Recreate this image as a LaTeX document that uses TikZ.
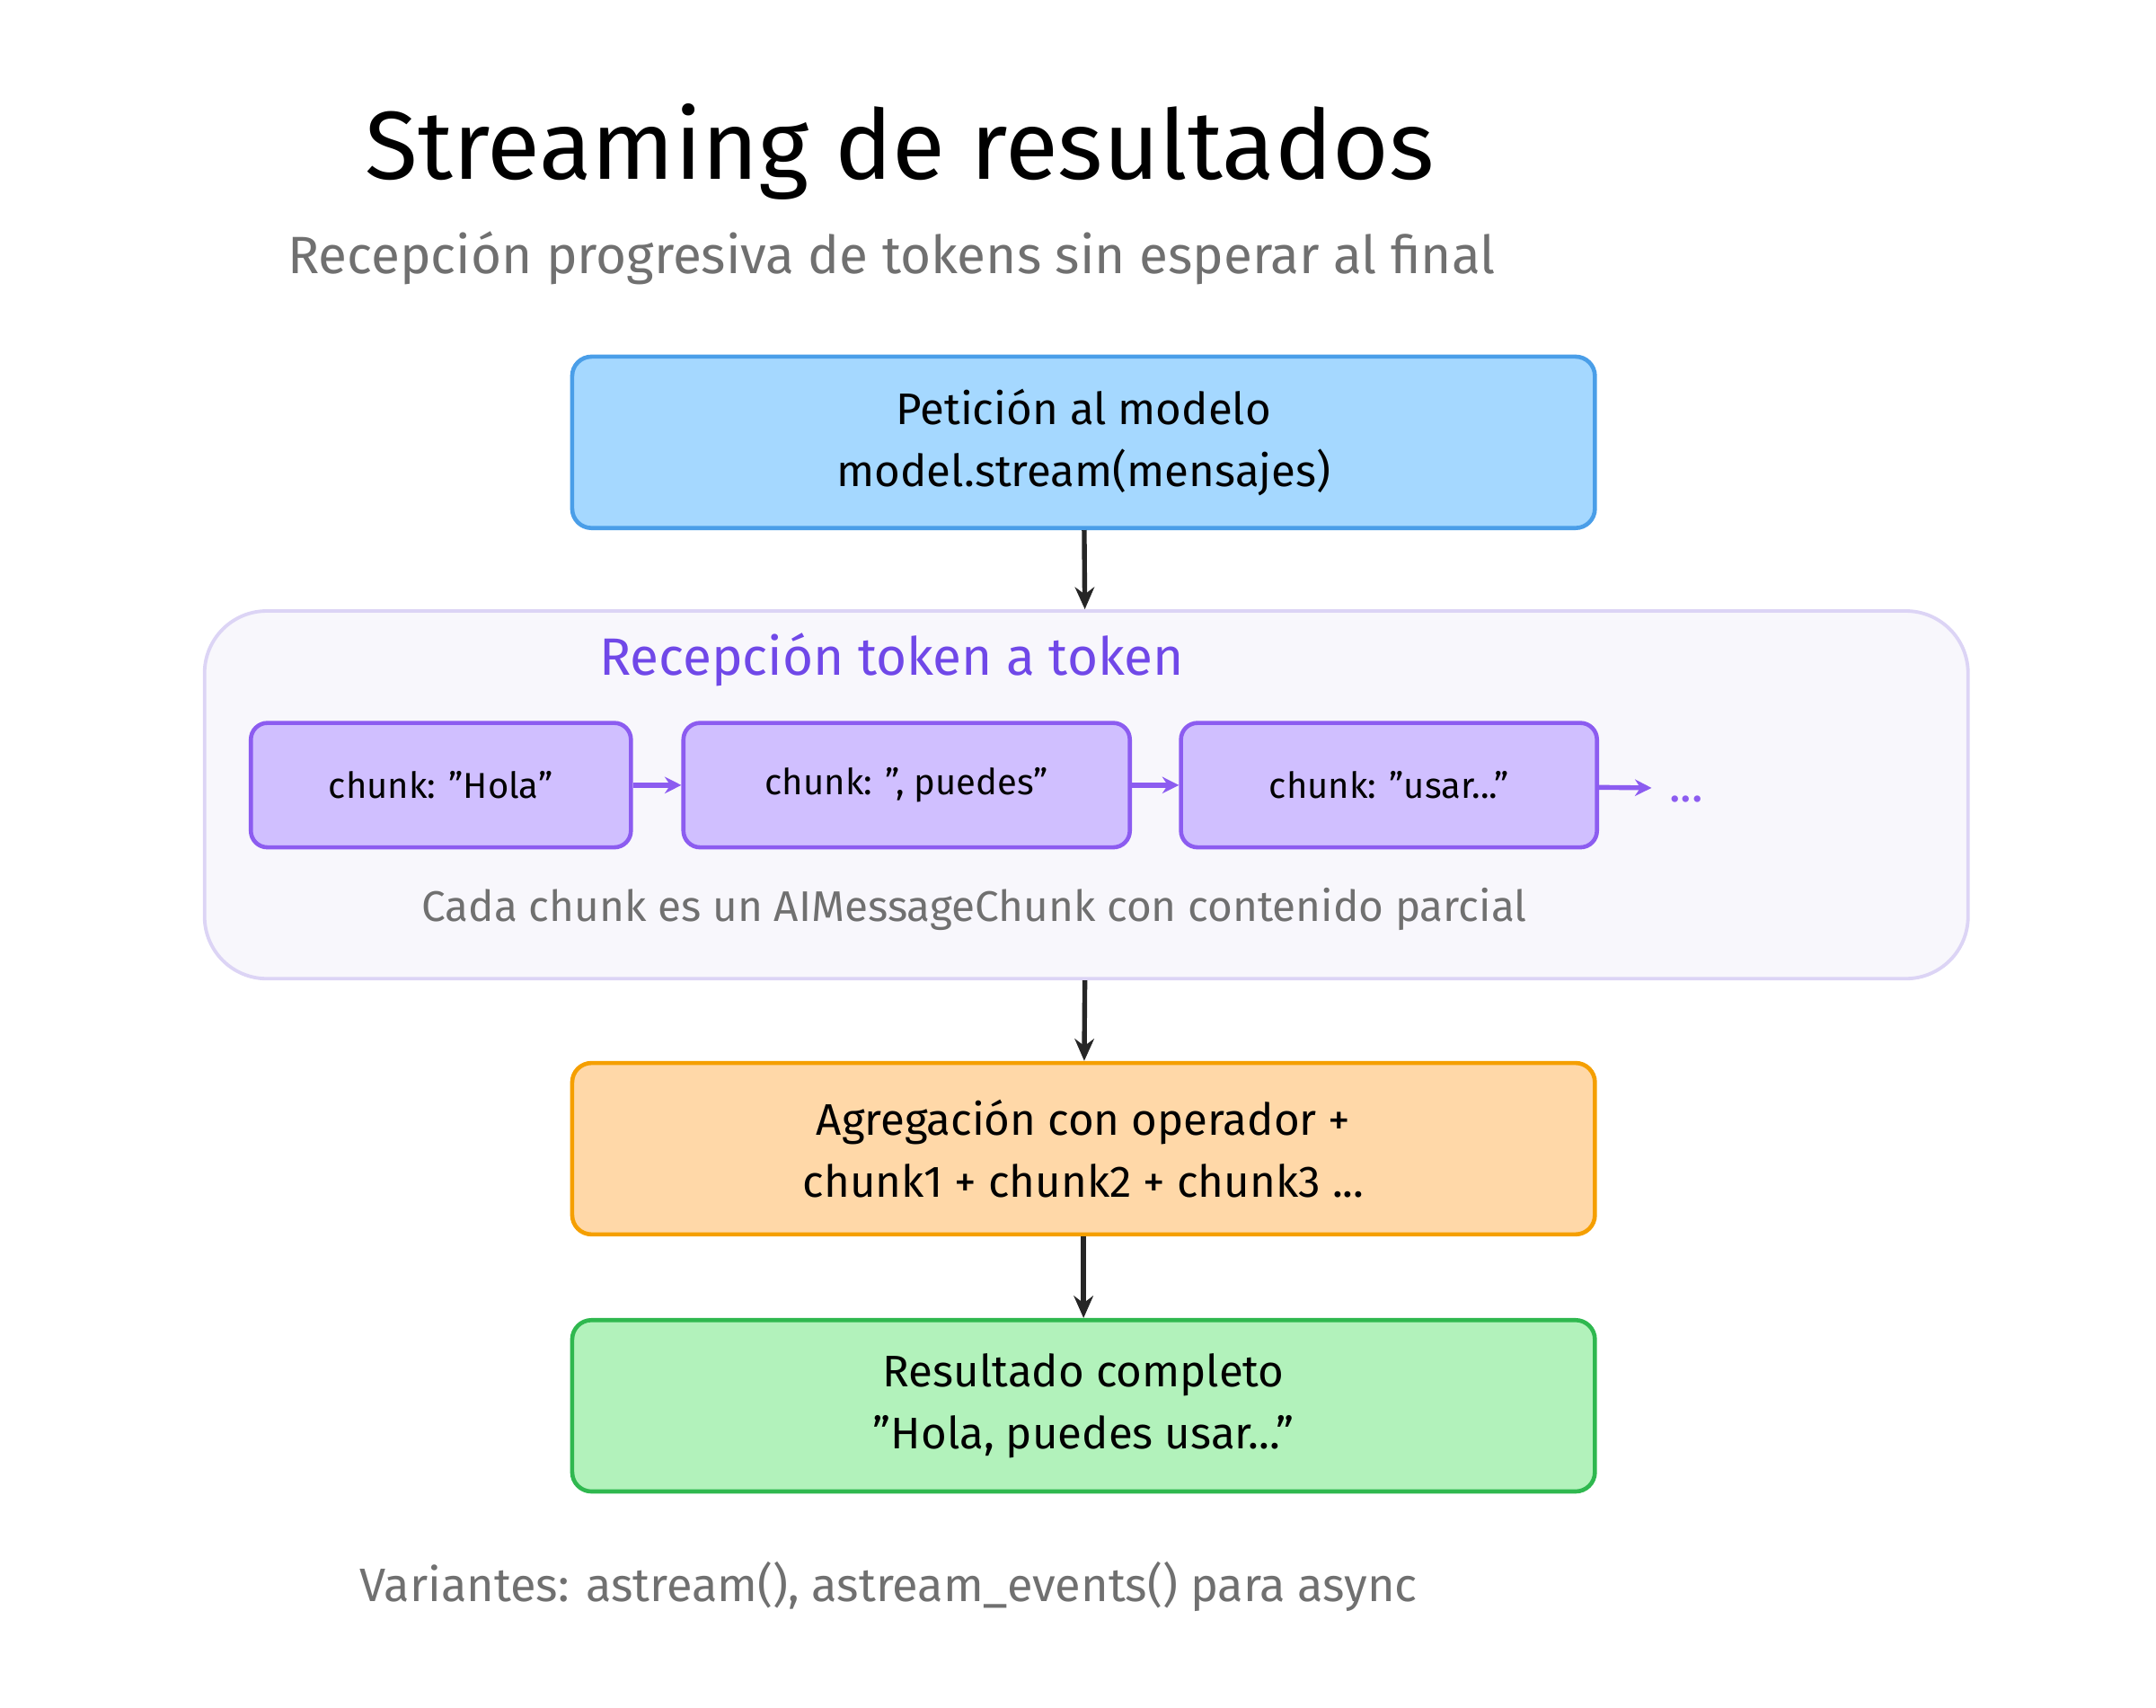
\documentclass[tikz,border=0pt]{standalone}
\usepackage{fontspec}
\setmainfont{Fira Sans}
\usetikzlibrary{arrows.meta,positioning}
\definecolor{azulF}{HTML}{A5D8FF}\definecolor{azulB}{HTML}{4A9EE8}
\definecolor{lilaF}{HTML}{D0BFFF}\definecolor{lilaB}{HTML}{8C5CF0}
\definecolor{grupoF}{HTML}{F8F7FC}\definecolor{grupoB}{HTML}{DCD4F5}
\definecolor{naranjaF}{HTML}{FFD8A8}\definecolor{naranjaB}{HTML}{F59F00}
\definecolor{verdeF}{HTML}{B2F2BB}\definecolor{verdeB}{HTML}{2FB84F}
\definecolor{gris}{HTML}{707070}\definecolor{morado}{HTML}{7048E8}
\newcommand{\cq}{\symbol{34}}
\tikzset{every picture/.style={line width=3pt}}
\begin{document}
\begin{tikzpicture}[x=1pt,y=-1pt,
  caja/.style={draw, rounded corners=14pt, minimum width=740pt, minimum height=124pt, align=center, font=\fontsize{32}{45}\selectfont},
  trozo/.style={draw=lilaB, fill=lilaF, rounded corners=12pt, minimum height=90pt, font=\fontsize{26}{30}\selectfont},
  flecha/.style={-{Stealth[length=16pt,width=14pt]}, line width=3.5pt, draw=black!85},
  flechita/.style={-{Stealth[length=12pt,width=12pt]}, line width=3.5pt, draw=lilaB}]
\useasboundingbox (0,0) rectangle (1560,1235);

% Titulos
\node (titulo) at (651,110) {\fontsize{70}{80}\selectfont Streaming de resultados};
\node[text=gris] (sub) at (645,187) {\fontsize{38}{44}\selectfont Recepción progresiva de tokens sin esperar al final};

% Peticion
\node[caja, draw=azulB, fill=azulF] (peticion) at (784,320) {Petición al modelo\\model.stream(mensajes)};

% Grupo de recepcion
\node[draw=grupoB, fill=grupoF, rounded corners=45pt, line width=2.5pt, minimum width=1276pt, minimum height=266pt] (grupo) at (786,575) {};
\node[text=morado] (recep) at (645,477) {\fontsize{38}{44}\selectfont Recepción token a token};
\node[trozo, minimum width=275pt] (c1) at (319,568) {chunk: \cq Hola\cq};
\node[trozo, minimum width=323pt] (c2) at (656,568) {chunk: \cq, puedes\cq};
\node[trozo, minimum width=301pt] (c3) at (1005,568) {chunk: \cq usar...\cq};
\coordinate (fin) at (1195,570);
\node[text=lilaB, font=\fontsize{34}{34}\selectfont] (puntos) at (1220,578) {...};
\draw[flechita] (c1) -- (c2);
\draw[flechita] (c2) -- (c3);
\draw[flechita] (c3) -- (fin);
\node[text=gris] (nota) at (705,658) {\fontsize{31}{36}\selectfont Cada chunk es un AIMessageChunk con contenido parcial};

% Agregacion y resultado
\node[caja, draw=naranjaB, fill=naranjaF] (agrega) at (784,831) {Agregación con operador +\\chunk1 + chunk2 + chunk3 ...};
\node[caja, draw=verdeB, fill=verdeF] (resultado) at (784,1017) {Resultado completo\\\cq Hola, puedes usar...\cq};

\draw[flecha] (peticion) -- (grupo);
\draw[flecha] (grupo) -- (agrega);
\draw[flecha] (agrega) -- (resultado);

\node[text=gris] (pie) at (643,1148) {\fontsize{34}{40}\selectfont Variantes: astream(), astream\_events() para async};
\end{tikzpicture}
\end{document}
